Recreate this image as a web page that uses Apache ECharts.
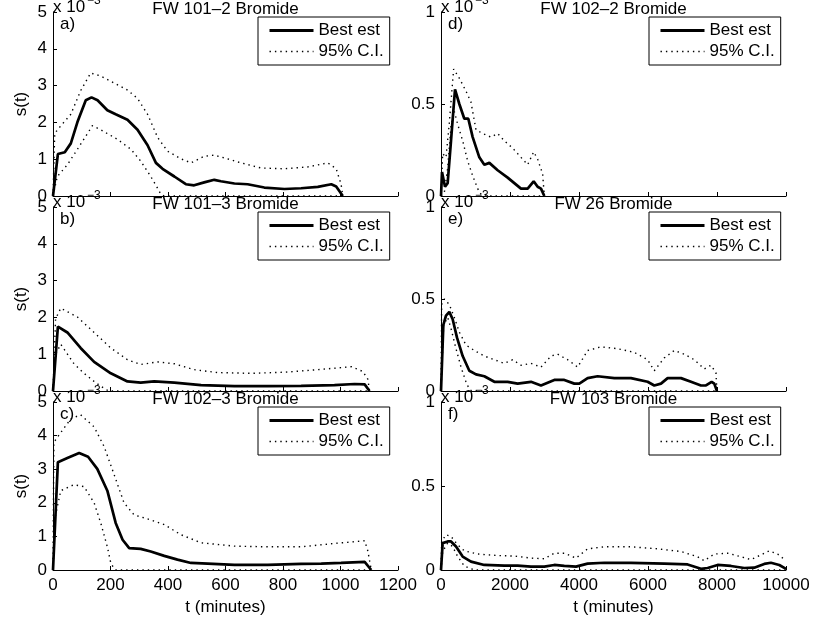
<!DOCTYPE html>
<html><head><meta charset="utf-8">
<script src="https://cdn.jsdelivr.net/npm/echarts@6/dist/echarts.min.js"></script>
<style>html,body{margin:0;padding:0;background:#fff}#c{width:814px;height:618px}</style>
</head><body><div id="c"></div>
<script>
// ---- Data (s(t) in units of 1e-3, t in minutes) ----
const panelTitles = ['FW 101–2 Bromide','FW 102–2 Bromide','FW 101–3 Bromide','FW 26 Bromide','FW 102–3 Bromide','FW 103 Bromide'];
const panelLetters = ['a)','d)','b)','e)','c)','f)'];
const seriesNames = ['Best est','95% C.I.'];
const xLabelText = 't (minutes)';
const yLabelText = 's(t)';
const leftXMax = 1200, leftXStep = 200, rightXMax = 10000, rightXStep = 2000;
const leftYMax = 5, leftYStep = 1, rightYMax = 1, rightYStep = 0.5;

const aBest = [[0,0],[17,1.14],[41,1.19],[62,1.43],[85,2.01],[114,2.6],[134,2.68],[155,2.6],[189,2.33],[218,2.22],[259,2.07],[294,1.8],[329,1.38],[358,0.9],[381,0.74],[422,0.53],[462,0.32],[491,0.29],[526,0.37],[561,0.44],[584,0.4],[631,0.34],[677,0.32],[735,0.23],[805,0.19],[863,0.21],[921,0.25],[968,0.32],[985,0.26],[1008,0]];
const aUpper = [[0,0],[6,1.7],[21,1.85],[62,2.22],[96,2.86],[131,3.34],[166,3.26],[213,3.07],[259,2.88],[294,2.65],[329,2.22],[364,1.59],[398,1.22],[445,1.01],[480,0.9],[526,1.08],[561,1.11],[607,1.01],[654,0.9],[724,0.76],[805,0.74],[886,0.79],[956,0.9],[985,0.74],[1002,0.32],[1008,0]];
const aLower = [[0,0],[15,0.53],[50,0.85],[85,1.27],[120,1.7],[137,1.91],[166,1.8],[224,1.54],[271,1.27],[305,0.95],[340,0.53],[364,0.21],[375,0.05],[387,0],[1008,0]];

const bBest = [[0,0],[17,1.75],[50,1.59],[96,1.17],[143,0.79],[201,0.48],[259,0.26],[305,0.23],[352,0.26],[422,0.23],[515,0.16],[631,0.13],[747,0.13],[863,0.14],[979,0.16],[1049,0.19],[1084,0.18],[1101,0]];
const bUpper = [[0,0],[9,1.96],[27,2.25],[85,2.01],[143,1.59],[201,1.17],[259,0.85],[305,0.72],[364,0.79],[422,0.74],[491,0.58],[573,0.5],[689,0.48],[805,0.51],[921,0.58],[1038,0.66],[1078,0.53],[1095,0.32],[1101,0]];
const bLower = [[0,0],[9,1.0],[27,1.27],[73,0.74],[108,0.48],[143,0.26],[166,0.13],[189,0.02],[200,0],[1101,0]];

const cBest = [[0,0],[17,3.21],[50,3.33],[91,3.48],[122,3.37],[154,3.01],[189,2.36],[218,1.4],[242,0.9],[265,0.65],[305,0.63],[340,0.55],[387,0.42],[433,0.31],[480,0.21],[538,0.19],[631,0.15],[747,0.15],[863,0.18],[933,0.19],[1002,0.21],[1084,0.24],[1107,0]];
const cUpper = [[0,0],[3,3.8],[21,4.02],[62,4.5],[96,4.62],[143,4.26],[178,3.67],[213,2.83],[247,2.0],[282,1.64],[329,1.52],[387,1.35],[445,1.05],[515,0.81],[631,0.71],[747,0.69],[863,0.69],[979,0.79],[1084,0.87],[1095,0.57],[1107,0]];
const cLower = [[0,0],[9,1.64],[27,2.36],[73,2.54],[108,2.48],[143,2.0],[166,1.4],[189,0.69],[201,0.21],[213,0.04],[220,0],[1107,0]];

const dBest = [[0,0],[29,0.13],[116,0.05],[193,0.07],[290,0.3],[406,0.58],[531,0.5],[676,0.42],[792,0.42],[918,0.32],[1111,0.21],[1256,0.17],[1401,0.18],[1642,0.14],[1932,0.1],[2125,0.07],[2318,0.04],[2512,0.04],[2686,0.08],[2801,0.05],[2898,0.04],[2995,0]];
const dUpper = [[0,0],[48,0.23],[145,0.21],[242,0.4],[367,0.69],[531,0.64],[724,0.57],[869,0.51],[1014,0.36],[1208,0.34],[1449,0.32],[1642,0.34],[1835,0.3],[2077,0.26],[2318,0.21],[2512,0.17],[2686,0.24],[2801,0.2],[2946,0.12],[2995,0]];
const dLower = [[0,0],[97,0.02],[193,0.15],[290,0.38],[386,0.46],[483,0.39],[628,0.3],[773,0.19],[918,0.11],[1063,0.04],[1159,0.01],[1250,0],[2995,0]];

const eBest = [[0,0],[68,0.36],[145,0.41],[242,0.43],[338,0.39],[464,0.29],[628,0.19],[821,0.11],[1014,0.09],[1256,0.08],[1546,0.05],[1932,0.05],[2222,0.04],[2608,0.05],[2898,0.03],[3284,0.06],[3574,0.06],[3864,0.04],[4009,0.04],[4250,0.07],[4540,0.08],[5023,0.07],[5506,0.07],[5989,0.05],[6182,0.03],[6376,0.04],[6569,0.07],[6955,0.07],[7245,0.05],[7535,0.03],[7680,0.03],[7844,0.05],[7921,0.04],[7998,0]];
const eUpper = [[0,0],[19,0.47],[97,0.5],[242,0.47],[386,0.4],[531,0.32],[724,0.25],[966,0.22],[1256,0.19],[1546,0.17],[1835,0.15],[2077,0.17],[2318,0.14],[2608,0.15],[2898,0.13],[3188,0.19],[3381,0.2],[3671,0.17],[3961,0.13],[4250,0.22],[4637,0.24],[5120,0.23],[5603,0.21],[5989,0.17],[6182,0.11],[6472,0.18],[6762,0.22],[7052,0.2],[7342,0.17],[7631,0.12],[7825,0.14],[7969,0.1],[7998,0]];
const eLower = [[0,0],[77,0.36],[193,0.4],[290,0.34],[435,0.23],[580,0.13],[724,0.05],[821,0.01],[900,0],[7998,0]];

const fBest = [[0,0],[48,0.16],[193,0.17],[290,0.17],[435,0.14],[628,0.08],[869,0.05],[1256,0.03],[1835,0.026],[2222,0.026],[2608,0.02],[2995,0.02],[3284,0.03],[3574,0.024],[3912,0.02],[4250,0.038],[4733,0.043],[5506,0.043],[6472,0.038],[7148,0.033],[7535,0.007],[7728,0.012],[8018,0.03],[8404,0.024],[8791,0.012],[9080,0.014],[9370,0.036],[9563,0.043],[9805,0.03],[10000,0.007]];
const fUpper = [[0,0],[19,0.17],[145,0.21],[290,0.2],[483,0.15],[676,0.114],[1063,0.095],[1642,0.086],[2125,0.083],[2608,0.071],[2995,0.067],[3284,0.1],[3574,0.1],[3912,0.071],[4250,0.126],[4733,0.138],[5506,0.138],[6279,0.126],[6955,0.11],[7438,0.079],[7631,0.055],[7921,0.095],[8308,0.1],[8694,0.079],[8984,0.062],[9274,0.09],[9515,0.114],[9757,0.095],[10000,0.055]];
const fLower = [[0,0],[48,0.11],[193,0.16],[338,0.14],[483,0.08],[676,0.024],[869,0.007],[1000,0],[10000,0]];

const panelData = [
  [aBest,aUpper,aLower],[dBest,dUpper,dLower],
  [bBest,bUpper,bLower],[eBest,eUpper,eLower],
  [cBest,cUpper,cLower],[fBest,fUpper,fLower]
];

// ---- Layout ----
const FONT = 'Liberation Sans, Arial, Helvetica, sans-serif';
const FS = 17;
const colLeft = [53, 441], colWidth = [345, 345];
const rowTop = [12, 207, 402], rowBottom = [196, 391, 570];
const bestLine = {color: '#000', width: 2.7};
const dottedLine = {color: '#000', width: 1.4, type: [1.4, 4]};

const grids = [], xAxes = [], yAxes = [], series = [], legends = [], graphics = [];
for (let i = 0; i < 6; i++) {
  const col = i % 2, row = Math.floor(i / 2);
  const L = colLeft[col], T = rowTop[row], W = colWidth[col], H = rowBottom[row] - rowTop[row];
  grids.push({left: L, top: T, width: W, height: H, containLabel: false});
  xAxes.push({
    type: 'value', gridIndex: i, min: 0,
    max: col ? rightXMax : leftXMax, interval: col ? rightXStep : leftXStep,
    axisLine: {show: true, onZero: false, lineStyle: {color: '#000', width: 1}},
    axisTick: {show: true, inside: true, length: 4, lineStyle: {color: '#000', width: 1}},
    axisLabel: {show: row === 2, color: '#000', fontSize: FS, fontFamily: FONT, margin: 7,
      formatter: v => String(v)},
    splitLine: {show: false},
    name: row === 2 ? xLabelText : '', nameLocation: 'middle', nameGap: 29,
    nameTextStyle: {color: '#000', fontSize: FS, fontFamily: FONT}
  });
  yAxes.push({
    type: 'value', gridIndex: i, min: 0,
    max: col ? rightYMax : leftYMax, interval: col ? rightYStep : leftYStep,
    axisLine: {show: true, onZero: false, lineStyle: {color: '#000', width: 1}},
    axisTick: {show: true, inside: true, length: 4, lineStyle: {color: '#000', width: 1}},
    axisLabel: {show: true, color: '#000', fontSize: FS, fontFamily: FONT, margin: 6,
      formatter: v => String(v)},
    splitLine: {show: false},
    name: col === 0 ? yLabelText : '', nameLocation: 'middle', nameGap: 23, nameRotate: 90,
    nameTextStyle: {color: '#000', fontSize: FS, fontFamily: FONT}
  });
  const [best, up, lo] = panelData[i];
  series.push({name: seriesNames[1], type: 'line', xAxisIndex: i, yAxisIndex: i, data: up,
    symbol: 'none', showSymbol: false, lineStyle: dottedLine, itemStyle: {color: '#000'}, z: 2, animation: false, silent: true});
  series.push({name: seriesNames[1], type: 'line', xAxisIndex: i, yAxisIndex: i, data: lo,
    symbol: 'none', showSymbol: false, lineStyle: dottedLine, itemStyle: {color: '#000'}, z: 2, animation: false, silent: true});
  series.push({name: seriesNames[0], type: 'line', xAxisIndex: i, yAxisIndex: i, data: best,
    symbol: 'none', showSymbol: false, lineStyle: bestLine, itemStyle: {color: '#000'}, z: 3, animation: false, silent: true});
  legends.push({
    data: [
      {name: seriesNames[0], lineStyle: {color: '#000', width: 3, type: 'solid'}},
      {name: seriesNames[1], lineStyle: {color: '#000', width: 1.4, type: [1.4, 4]}}
    ],
    orient: 'vertical', left: col ? 649 : 258, top: T + 5,
    backgroundColor: '#fff', borderColor: '#000', borderWidth: 1, borderRadius: 0,
    padding: [5, 6, 5, 10], itemGap: 4, itemWidth: 44, itemHeight: 17,
    selectedMode: false,
    itemStyle: {opacity: 0},
    textStyle: {color: '#000', fontSize: FS, fontFamily: FONT}
  });
  // title
  graphics.push({type: 'text', x: L + W / 2, y: T - 3, style: {text: panelTitles[i], fill: '#000', font: FS + 'px ' + FONT, textAlign: 'center', textVerticalAlign: 'middle'}});
  // exponent label
  graphics.push({type: 'text', x: L, y: T - 5, style: {text: 'x 10', fill: '#000', font: FS + 'px ' + FONT, textAlign: 'left', textVerticalAlign: 'middle'}});
  graphics.push({type: 'text', x: L + 34, y: T - 11, style: {text: '−3', fill: '#000', font: '12px ' + FONT, textAlign: 'left', textVerticalAlign: 'middle'}});
  // panel letter
  graphics.push({type: 'text', x: L + 7, y: T + 12, style: {text: panelLetters[i], fill: '#000', font: FS + 'px ' + FONT, textAlign: 'left', textVerticalAlign: 'middle'}});
}

const chart = echarts.init(document.getElementById('c'), null, {renderer: 'canvas'});
chart.setOption({
  backgroundColor: '#fff', animation: false,
  grid: grids, xAxis: xAxes, yAxis: yAxes, series: series, legend: legends, graphic: graphics
});
</script></body></html>
